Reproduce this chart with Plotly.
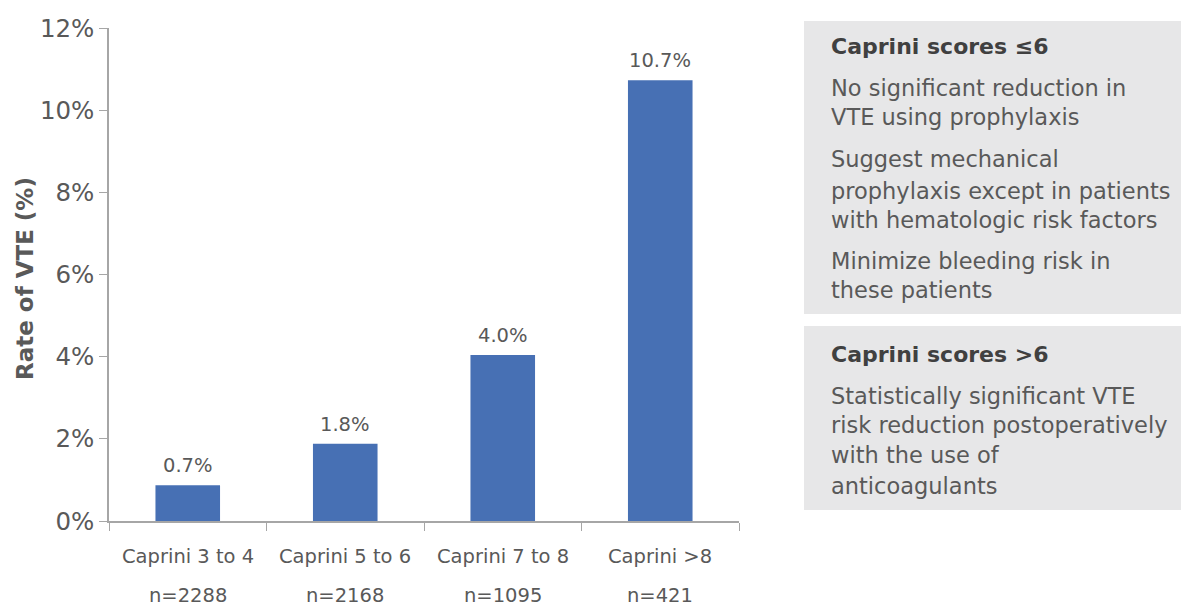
import plotly.graph_objects as go

categories = ["Caprini 3 to 4", "Caprini 5 to 6", "Caprini 7 to 8", "Caprini >8"]
sample_sizes = ["n=2288", "n=2168", "n=1095", "n=421"]
bar_values = [0.87, 1.88, 4.04, 10.73]
value_labels = ["0.7%", "1.8%", "4.0%", "10.7%"]
y_ticks = [0, 2, 4, 6, 8, 10, 12]

box1_title = "Caprini scores ≤6"
box1_lines = ["No significant reduction in", "VTE using prophylaxis",
              "Suggest mechanical", "prophylaxis except in patients",
              "with hematologic risk factors", "Minimize bleeding risk in",
              "these patients"]
box2_title = "Caprini scores >6"
box2_lines = ["Statistically significant VTE", "risk reduction postoperatively",
              "with the use of", "anticoagulants"]

W, H = 1181, 606
L, R, T, B = 109, 739, 28, 521
FONT = "DejaVu Sans"
TXT = "#595959"
AX = "#a6a6a6"

def px(x):
    return (x - L) / (R - L)

def py(y):
    return (B - y) / (B - T)

xs = list(range(len(categories)))

fig = go.Figure()
fig.add_trace(go.Bar(x=xs, y=bar_values, marker_color="#4770b4", width=0.41,
                     marker_line_width=0, showlegend=False, hoverinfo="skip"))

annotations = []
for i, (v, lab) in enumerate(zip(bar_values, value_labels)):
    annotations.append(dict(x=i, y=v, xref="x", yref="y", text=lab, showarrow=False,
                            xanchor="center", yanchor="bottom", yshift=6,
                            font=dict(family=FONT, size=19.5, color=TXT)))
for i, (c, n) in enumerate(zip(categories, sample_sizes)):
    annotations.append(dict(x=i, y=py(556), xref="x", yref="paper", text=c, showarrow=False,
                            xanchor="center", yanchor="middle",
                            font=dict(family=FONT, size=19.5, color=TXT)))
    annotations.append(dict(x=i, y=py(595), xref="x", yref="paper", text=n, showarrow=False,
                            xanchor="center", yanchor="middle",
                            font=dict(family=FONT, size=19.5, color=TXT)))

annotations.append(dict(x=px(25), y=py(279), xref="paper", yref="paper",
                        text="<b>Rate of VTE (%)</b>", textangle=-90, showarrow=False,
                        xanchor="center", yanchor="middle",
                        font=dict(family=FONT, size=23, color=TXT)))

shapes = [
    dict(type="rect", xref="paper", yref="paper", x0=px(804), x1=px(1181), y0=py(21), y1=py(314),
         fillcolor="#e7e7e8", line_width=0, layer="below"),
    dict(type="rect", xref="paper", yref="paper", x0=px(804), x1=px(1181), y0=py(326), y1=py(510),
         fillcolor="#e7e7e8", line_width=0, layer="below"),
]

def add_text(t, y, bold=False):
    annotations.append(dict(x=px(829), y=py(y), xref="paper", yref="paper", text=(f"<b>{t}</b>" if bold else t),
                            showarrow=False, xanchor="left", yanchor="middle",
                            font=dict(family=FONT, size=22 if bold else 22.5, color="#404040" if bold else TXT)))

add_text(box1_title, 47, True)
for t, y in zip(box1_lines, [88, 117, 159, 191, 220, 261, 290]):
    add_text(t, y)
add_text(box2_title, 354, True)
for t, y in zip(box2_lines, [396, 425, 455, 486]):
    add_text(t, y)

fig.update_layout(
    width=W, height=H, margin=dict(l=L, r=W - R, t=T, b=H - B, pad=0),
    plot_bgcolor="white", paper_bgcolor="white",
    annotations=annotations, shapes=shapes, bargap=0.59,
    font=dict(family=FONT, color=TXT),
)
fig.update_xaxes(range=[-0.5, 3.5], tickvals=[-0.5, 0.5, 1.5, 2.5, 3.5], ticktext=["", "", "", "", ""],
                 ticks="outside", ticklen=8, tickcolor=AX, showline=True, linecolor=AX, linewidth=1.5,
                 showgrid=False, zeroline=False, fixedrange=True)
fig.update_yaxes(range=[0, 12], tickvals=y_ticks, ticktext=[f"{v}%" for v in y_ticks],
                 ticks="outside", ticklen=8, tickcolor=AX, showline=True, linecolor=AX, linewidth=1.5,
                 showgrid=False, zeroline=False, tickfont=dict(family=FONT, size=24.5, color=TXT),
                 fixedrange=True)

fig.write_html("out.html")
